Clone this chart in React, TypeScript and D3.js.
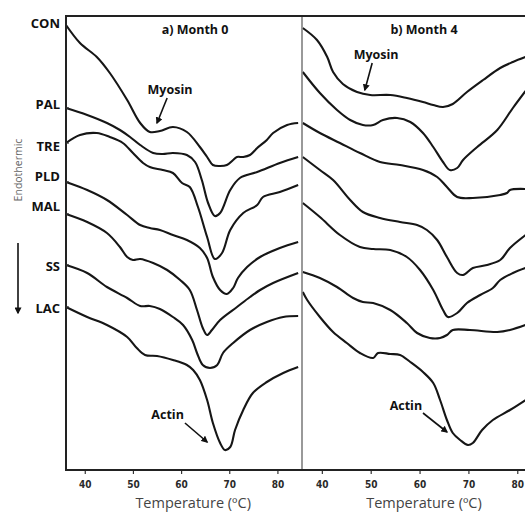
import * as d3 from 'd3'

const samples = ['CON', 'PAL', 'TRE', 'PLD', 'MAL', 'SS', 'LAC']
const tempTicks = [40, 50, 60, 70, 80]
// where the sample names sit on the heat-flow axis
const labelLevels = [44.7, 36.6, 32.4, 29.4, 26.4, 20.4, 16.2]

// Month 0 thermograms: [temperature °C, heat flow (a.u., stacked)]
const con0 = [[36.0, 44.5], [38.9, 42.7], [42.4, 41.3], [45.1, 39.7], [48.7, 37.0], [51.4, 34.7], [53.4, 33.8], [55.5, 33.9], [58.2, 34.3], [61.1, 33.8], [63.8, 32.3], [65.3, 31.3], [66.5, 30.5], [68.0, 30.4], [69.4, 30.5], [70.7, 31.0], [71.5, 31.3], [72.8, 31.3], [74.2, 31.5], [75.7, 32.2], [77.7, 33.0], [79.0, 33.7], [81.9, 34.5], [84.2, 34.7]]
const pal0 = [[36.0, 36.2], [40.4, 35.5], [44.5, 34.7], [47.2, 34.0], [49.3, 33.3], [51.4, 32.5], [54.1, 31.7], [56.1, 31.6], [58.2, 31.7], [61.1, 31.5], [62.8, 30.8], [64.2, 29.0], [65.5, 26.7], [66.9, 25.4], [68.0, 25.7], [70.1, 28.0], [72.1, 29.2], [75.7, 29.8], [80.4, 30.7], [84.2, 31.3]]
const tre0 = [[36.0, 32.7], [38.9, 33.5], [42.4, 33.7], [45.1, 33.3], [47.8, 32.7], [49.9, 31.7], [52.0, 30.7], [53.4, 30.3], [56.1, 30.0], [58.2, 29.7], [60.1, 28.7], [61.7, 28.3], [63.4, 26.3], [65.3, 23.3], [66.9, 21.1], [68.4, 21.7], [70.1, 24.0], [72.8, 25.7], [75.7, 26.5], [76.9, 27.3], [80.4, 27.8], [84.2, 28.5]]
const pld0 = [[36.0, 28.8], [40.4, 28.0], [44.5, 27.0], [48.7, 25.5], [51.4, 24.5], [53.4, 24.2], [55.5, 24.0], [58.2, 23.5], [61.1, 23.0], [63.8, 22.2], [65.3, 21.2], [66.5, 19.3], [68.0, 18.0], [69.4, 17.6], [70.7, 18.2], [71.7, 19.2], [73.6, 20.3], [76.3, 21.3], [80.4, 22.2], [84.2, 22.8]]
const mal0 = [[36.0, 25.6], [40.4, 24.8], [44.5, 23.7], [47.2, 22.3], [48.7, 21.3], [49.9, 21.0], [51.4, 21.1], [54.1, 20.7], [57.0, 20.0], [59.7, 19.0], [61.7, 18.0], [63.2, 16.0], [64.4, 14.2], [65.3, 13.5], [66.3, 14.0], [68.0, 15.0], [71.5, 16.3], [74.2, 17.3], [76.3, 18.0], [79.0, 18.7], [84.2, 19.7]]
const ss0 = [[36.0, 20.5], [40.4, 19.7], [44.5, 18.3], [48.7, 17.2], [51.4, 16.4], [53.4, 16.4], [55.5, 16.1], [58.2, 15.3], [60.3, 14.5], [62.2, 13.0], [63.2, 11.7], [64.4, 10.5], [65.9, 10.2], [67.4, 10.5], [68.6, 11.7], [70.7, 12.7], [74.2, 14.0], [77.7, 14.8], [81.1, 15.3], [84.2, 15.4]]
const lac0 = [[36.0, 16.3], [40.4, 15.3], [44.5, 14.5], [48.7, 13.3], [50.7, 12.2], [52.4, 11.5], [54.9, 11.4], [58.2, 11.0], [61.1, 10.5], [62.4, 10.0], [63.8, 9.0], [65.3, 7.0], [66.5, 4.7], [68.0, 2.7], [69.0, 2.0], [70.1, 2.3], [71.1, 4.0], [72.8, 6.0], [74.8, 7.7], [77.7, 8.8], [81.1, 9.7], [84.2, 10.3]]

// Month 4 thermograms
const con4 = [[36.0, 44.2], [38.9, 43.0], [41.0, 41.3], [42.2, 39.8], [44.2, 38.6], [47.1, 37.8], [49.8, 37.5], [53.9, 37.5], [57.3, 37.2], [60.6, 36.8], [62.7, 36.5], [64.7, 36.3], [66.7, 36.6], [69.6, 37.8], [72.9, 39.0], [76.4, 40.2], [79.0, 40.8], [81.6, 41.3]]
const pal4 = [[36.0, 39.8], [39.5, 37.7], [43.0, 36.0], [45.7, 35.0], [48.3, 34.5], [50.4, 34.5], [52.4, 35.0], [55.3, 35.2], [58.0, 34.8], [60.6, 33.7], [62.7, 32.3], [64.7, 30.8], [66.1, 30.0], [67.6, 30.2], [68.8, 31.0], [71.7, 32.3], [75.8, 34.0], [79.0, 36.2], [81.6, 37.9]]
const tre4 = [[36.0, 34.7], [39.5, 33.7], [43.6, 32.7], [47.7, 31.7], [51.8, 30.8], [55.9, 30.5], [60.6, 30.0], [63.5, 29.3], [65.5, 28.3], [67.6, 27.3], [70.8, 27.2], [76.4, 27.5], [77.8, 27.7], [78.4, 28.0], [81.6, 28.1]]
const pld4 = [[36.0, 31.3], [39.5, 30.0], [42.2, 29.0], [45.7, 27.0], [48.3, 25.8], [51.8, 25.2], [55.9, 24.8], [59.4, 24.5], [61.4, 24.0], [63.5, 23.0], [65.5, 21.3], [67.6, 19.7], [68.8, 19.5], [70.8, 20.2], [73.7, 20.5], [76.4, 21.0], [78.4, 22.2], [81.6, 23.5]]
const mal4 = [[36.0, 26.7], [39.5, 25.3], [43.6, 23.5], [47.7, 22.3], [50.4, 22.1], [53.9, 22.0], [57.3, 21.3], [60.0, 20.0], [62.7, 18.0], [64.7, 16.0], [65.7, 15.3], [67.6, 15.7], [69.6, 16.7], [72.3, 17.5], [74.9, 18.2], [76.4, 19.0], [79.0, 19.7], [81.6, 20.2]]
const ss4 = [[36.0, 19.8], [39.5, 19.2], [43.0, 18.3], [46.3, 17.2], [48.3, 16.8], [50.4, 16.7], [53.9, 16.0], [57.3, 14.7], [59.4, 13.7], [62.0, 13.2], [64.1, 13.2], [65.5, 13.5], [66.7, 14.0], [70.2, 14.0], [75.8, 13.8], [78.4, 14.0], [81.6, 14.5]]
const lac4 = [[36.0, 17.8], [36.9, 17.0], [39.5, 15.3], [42.2, 13.8], [45.0, 12.7], [47.7, 11.7], [50.4, 11.2], [51.4, 11.7], [53.9, 11.6], [55.9, 11.5], [58.0, 10.8], [60.6, 9.8], [62.7, 8.7], [64.1, 7.0], [65.5, 5.0], [66.7, 3.7], [68.2, 3.0], [69.8, 2.5], [70.8, 2.7], [72.7, 4.0], [74.9, 5.0], [78.4, 6.0], [81.6, 7.0]]

const month0 = [con0, pal0, tre0, pld0, mal0, ss0, lac0]
const month4 = [con4, pal4, tre4, pld4, mal4, ss4, lac4]

// peak annotations: label centre, arrow start, arrow tip
const notes0 = [
  { text: 'Myosin', at: [57.6, 38.0], from: [57.0, 37.2], to: [54.9, 34.7] },
  { text: 'Actin', at: [57.1, 5.5], from: [60.7, 4.7], to: [65.3, 2.8] },
]
const notes4 = [
  { text: 'Myosin', at: [51.0, 41.5], from: [50.2, 40.7], to: [48.7, 38.0] },
  { text: 'Actin', at: [57.1, 6.4], from: [60.6, 5.7], to: [65.5, 3.8] },
]

const W = 525
const H = 512
const TOP = 16
const BOTTOM = 470
const LEFT = 66
const MID = 302

const bold = "'Open Sans', 'DejaVu Sans', sans-serif"

export default function App() {
  const y = d3.scaleLinear().domain([0, 45.4]).range([BOTTOM, TOP])

  const panels = [
    {
      title: 'a) Month 0',
      titleT: 62.8,
      axisT: 62.4,
      curves: month0,
      notes: notes0,
      x: d3.scaleLinear().domain([36, 85]).range([LEFT, MID]),
    },
    {
      title: 'b) Month 4',
      titleT: 60.8,
      axisT: 60.8,
      curves: month4,
      notes: notes4,
      x: d3.scaleLinear().domain([36, 85]).range([302.8, 542.2]),
    },
  ]

  return (
    <>
      <style>{'body{margin:0;overflow:hidden}'}</style>
      <svg width={W} height={H} style={{ display: 'block', background: '#fff' }}>
        <defs>
          <marker
            id="head"
            viewBox="0 0 10 10"
            refX="8"
            refY="5"
            markerWidth="7"
            markerHeight="7"
            markerUnits="userSpaceOnUse"
            orient="auto"
          >
            <path d="M0,0 L10,5 L0,10 z" fill="#111" />
          </marker>
        </defs>

        {panels.map((p, pi) => {
          const line = d3
            .line<number[]>()
            .x((d) => p.x(d[0]))
            .y((d) => y(d[1]))
            .curve(d3.curveCatmullRom.alpha(0.5))
          return (
            <g key={pi}>
              {p.curves.map((c, i) => (
                <path key={i} d={line(c) || ''} fill="none" stroke="#161616" strokeWidth={2.1} />
              ))}
              <text
                x={p.x(p.titleT)}
                y={y(44.0)}
                dy="0.35em"
                textAnchor="middle"
                fontFamily={bold}
                fontWeight={700}
                fontSize={12.5}
                fill="#111"
              >
                {p.title}
              </text>
              {p.notes.map((n, i) => (
                <g key={i}>
                  <text
                    x={p.x(n.at[0])}
                    y={y(n.at[1])}
                    dy="0.35em"
                    textAnchor="middle"
                    fontFamily={bold}
                    fontWeight={700}
                    fontSize={12.5}
                    fill="#111"
                  >
                    {n.text}
                  </text>
                  <line
                    x1={p.x(n.from[0])}
                    y1={y(n.from[1])}
                    x2={p.x(n.to[0])}
                    y2={y(n.to[1])}
                    stroke="#111"
                    strokeWidth={1.6}
                    markerEnd="url(#head)"
                  />
                </g>
              ))}
              {tempTicks.map((t) => (
                <g key={t} transform={`translate(${p.x(t)},${BOTTOM})`}>
                  <line y1={1} y2={4} stroke="#333" strokeWidth={1.2} />
                  <text
                    y={14}
                    dy="0.35em"
                    textAnchor="middle"
                    fontFamily="'DejaVu Sans Condensed', 'DejaVu Sans', sans-serif"
                    fontWeight={700}
                    fontSize={10}
                    fill="#2a2a2a"
                  >
                    {t}
                  </text>
                </g>
              ))}
              <text
                x={p.x(p.axisT)}
                y={BOTTOM + 33}
                dy="0.35em"
                textAnchor="middle"
                fontFamily="'Open Sans', sans-serif"
                fontSize={14.5}
                fill="#444"
              >
                Temperature (ºC)
              </text>
            </g>
          )
        })}

        {/* frame */}
        <line x1={MID} x2={MID} y1={TOP} y2={BOTTOM} stroke="#777" strokeWidth={1.5} />
        <line x1={LEFT - 1} x2={W} y1={TOP} y2={TOP} stroke="#222" strokeWidth={2} />
        <line x1={LEFT - 1} x2={W} y1={BOTTOM} y2={BOTTOM} stroke="#222" strokeWidth={2} />
        <line x1={LEFT} x2={LEFT} y1={TOP} y2={BOTTOM + 1} stroke="#222" strokeWidth={2} />

        {/* sample names and their ticks */}
        {samples.map((s, i) => (
          <g key={s}>
            {i > 0 && (
              <line
                x1={LEFT}
                x2={LEFT + 3}
                y1={y(month0[i][0][1])}
                y2={y(month0[i][0][1])}
                stroke="#333"
                strokeWidth={1.2}
              />
            )}
            <text
              x={LEFT - 6}
              y={y(labelLevels[i])}
              dy="0.35em"
              textAnchor="end"
              fontFamily={bold}
              fontWeight={700}
              fontSize={13}
              fill="#111"
            >
              {s}
            </text>
          </g>
        ))}

        {/* y direction */}
        <text
          transform={`translate(18,170) rotate(-90)`}
          textAnchor="middle"
          dy="0.35em"
          fontFamily="'Open Sans', sans-serif"
          fontSize={10.5}
          fill="#666"
        >
          Endothermic
        </text>
        <line x1={18} x2={18} y1={243} y2={313} stroke="#111" strokeWidth={1.6} markerEnd="url(#head)" />
      </svg>
    </>
  )
}
